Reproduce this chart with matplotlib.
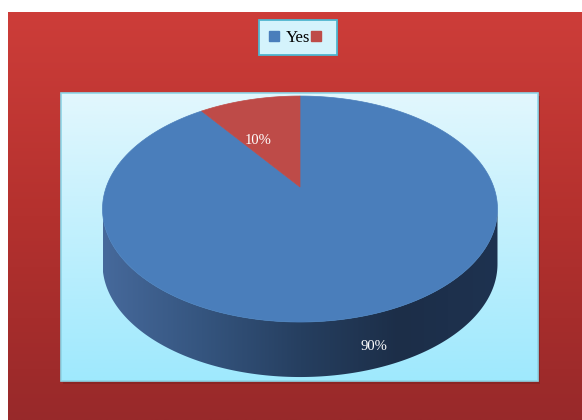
import numpy as np
import matplotlib.pyplot as plt
from matplotlib.patches import Polygon, Rectangle
from matplotlib.lines import Line2D
from matplotlib.colors import LinearSegmentedColormap

# data
labels = ['Yes', '']
values = [90, 10]
slice_colors = ['#4a7ebb', '#be4b48']
pct_text = ['90%', '10%']

# geometry in pixel space (y grows downwards), simple perspective on a tilted disc
W, H = 582, 420
cx, cy = 300, 187
rx, ry = 193.7, 108.7
k = 0.195
depth = 55


def rim(theta_deg, f=1.0, yoff=0.0):
    t = np.radians(theta_deg)
    u, v = f * np.sin(t), f * np.cos(t)
    d = 1 + k * v
    return np.column_stack([cx + rx * u / d, cy - ry * v / d + yoff])


fig = plt.figure(figsize=(W / 100, H / 100), dpi=100, facecolor='white')
ax = fig.add_axes([0, 0, 1, 1])
ax.set_xlim(0, W)
ax.set_ylim(H, 0)
ax.axis('off')

# red chart background with vertical gradient
bg = np.linspace(0, 1, 256).reshape(-1, 1)
red_cmap = LinearSegmentedColormap.from_list('r', ['#cd3d39', '#b4312e', '#98292a'])
ax.imshow(bg, cmap=red_cmap, extent=[8, W, H, 12], aspect='auto', zorder=0)

# plot area with light cyan gradient
cyan_cmap = LinearSegmentedColormap.from_list('c', ['#e2f7fd', '#9fe9fd'])
ax.add_patch(Rectangle((63, 96), 477, 288, facecolor='#7a2220', alpha=0.5, zorder=1))
ax.imshow(bg, cmap=cyan_cmap, extent=[61, 538, 381, 93], aspect='auto', zorder=1)
ax.add_patch(Rectangle((61, 93), 477, 288, fill=False, edgecolor='#8ed6e8', lw=1.2, zorder=2))

# side wall (visible front part between the silhouette points)
a = np.degrees(np.arccos(-k))
front = np.linspace(a, 360 - a, 200)
side = Polygon(np.vstack([rim(front), rim(front[::-1], yoff=depth)]), closed=True,
               facecolor='none', edgecolor='none', zorder=3)
ax.add_patch(side)
grad = np.linspace(0, 1, 256).reshape(1, -1)
side_cmap = LinearSegmentedColormap.from_list('s', ['#46699b', '#35557f', '#263f60', '#1c2e48', '#1e3250'])
x0, x1 = rim([a])[0][0], rim([360 - a])[0][0]
im = ax.imshow(grad, cmap=side_cmap, extent=[x1, x0, cy + 200, cy - 10], aspect='auto', zorder=3)
im.set_clip_path(side)

# top face slices, clockwise from 12 o'clock
bounds = np.concatenate([[0], np.cumsum(values)]) / sum(values) * 360
apex = np.array([[cx, cy]])
for i, v in enumerate(values):
    arc = rim(np.linspace(bounds[i], bounds[i + 1], 200))
    ax.add_patch(Polygon(np.vstack([apex, arc]), closed=True, facecolor=slice_colors[i],
                         edgecolor=slice_colors[i], lw=0.5, zorder=4))

# percentage labels
mid = (bounds[:-1] + bounds[1:]) / 2
for i, v in enumerate(values):
    p = rim([mid[i]])[0]
    if np.cos(np.radians(mid[i])) < 0:
        x, y = p[0], p[1] + depth * 0.6
    else:
        x = cx + (p[0] - cx) * 0.82
        y = cy + (p[1] - cy) * 0.53
    ax.text(x, y, pct_text[i], color='white', fontsize=10.5, family='Liberation Serif',
            ha='center', va='center', zorder=6)

# legend
handles = [Line2D([], [], marker='s', ls='none', color=c, markersize=6.5) for c in slice_colors]
leg = fig.legend(handles, labels, loc='center', bbox_to_anchor=(298 / W, 1 - 37.5 / H), ncol=2,
                 frameon=True, fancybox=False, framealpha=1, handlelength=0.7, handletextpad=0.35,
                 columnspacing=0.0, borderpad=0.55, borderaxespad=0,
                 prop={'family': 'Liberation Serif', 'size': 12})
frame = leg.get_frame()
frame.set_facecolor('#d4f3fc')
frame.set_edgecolor('#4fb5cf')
frame.set_linewidth(1.3)

fig.savefig('out.png', dpi=100, facecolor='white')
